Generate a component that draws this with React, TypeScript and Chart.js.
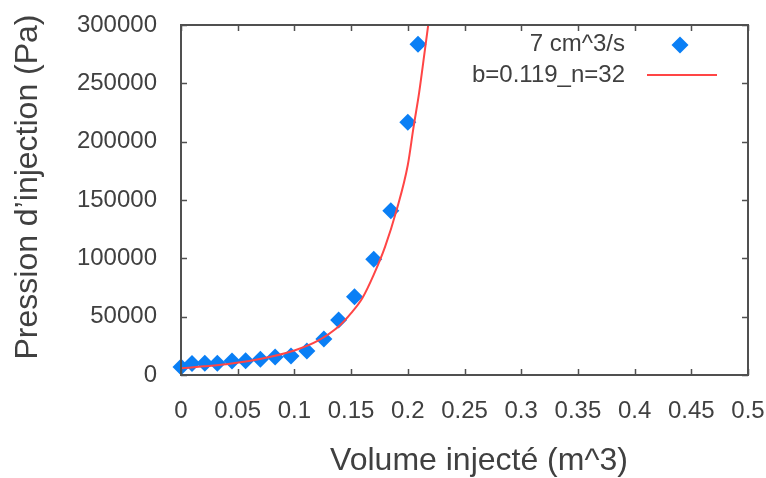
import React, { useEffect, useRef } from "react";
import { Chart, registerables } from "chart.js";

Chart.register(...registerables);

// Measured points (7 cm^3/s)
const pointX = [0, 0.0097, 0.021, 0.032, 0.045, 0.057, 0.07, 0.083, 0.097, 0.111, 0.126, 0.139, 0.153, 0.17, 0.185, 0.2, 0.209];
const pointY = [6860, 9860, 10000, 10000, 12000, 12250, 13460, 15400, 16300, 20600, 30900, 47100, 67100, 99200, 140800, 216600, 283400];

// Fitted curve (b=0.119_n=32)
const fitX = [0, 0.02, 0.04, 0.06, 0.08, 0.1, 0.12, 0.14, 0.15, 0.16, 0.17, 0.18, 0.19, 0.2, 0.205, 0.21, 0.215, 0.218];
const fitY = [5700, 7400, 9300, 12000, 15800, 21000, 29000, 42500, 53000, 66000, 86000, 110000, 141000, 180000, 212000, 242000, 278000, 300000];

const seriesLabels = ["7 cm^3/s", "b=0.119_n=32"];
const xTitle = "Volume injecté (m^3)";
const yTitle = "Pression d’injection (Pa)";

const FONT = "Liberation Sans, Arial, sans-serif";
const TEXT = "#404040";
const FRAME = "#505050";
const BLUE = "#0a7ff5";
const RED = "#ff4545";

const framePlugin = {
  id: "frameTicks",
  afterDraw(chart: any) {
    const { ctx, chartArea: a, scales } = chart;
    const xs = scales.x, ys = scales.y;
    ctx.save();
    ctx.strokeStyle = FRAME;
    ctx.lineWidth = 2;
    ctx.strokeRect(a.left, a.top, a.right - a.left, a.bottom - a.top);
    const tl = 6;
    ctx.lineWidth = 1.5;
    ctx.beginPath();
    xs.ticks.forEach((t: any) => {
      const px = Math.round(xs.getPixelForValue(t.value)) + 0.5;
      ctx.moveTo(px, a.bottom); ctx.lineTo(px, a.bottom - tl);
      ctx.moveTo(px, a.top); ctx.lineTo(px, a.top + tl);
    });
    ys.ticks.forEach((t: any) => {
      const py = Math.round(ys.getPixelForValue(t.value)) + 0.5;
      ctx.moveTo(a.left, py); ctx.lineTo(a.left + tl, py);
      ctx.moveTo(a.right, py); ctx.lineTo(a.right - tl, py);
    });
    ctx.stroke();

    // axis titles
    ctx.fillStyle = TEXT;
    ctx.font = `32px ${FONT}`;
    ctx.textAlign = "center";
    ctx.textBaseline = "middle";
    ctx.fillText(xTitle, 479, 461);
    ctx.save();
    ctx.translate(28, 187);
    ctx.rotate(-Math.PI / 2);
    ctx.fillText(yTitle, 0, 0);
    ctx.restore();

    // legend (gnuplot style)
    const ds = chart.data.datasets;
    ctx.font = `24px ${FONT}`;
    ctx.textAlign = "right";
    ctx.fillText(ds[0].label, 625, 44);
    ctx.fillText(ds[1].label, 625, 75);
    ctx.fillStyle = BLUE;
    ctx.beginPath();
    const r = 8.5, cx = 680, cy = 45;
    ctx.moveTo(cx, cy - r); ctx.lineTo(cx + r, cy); ctx.lineTo(cx, cy + r); ctx.lineTo(cx - r, cy);
    ctx.closePath();
    ctx.fill();
    ctx.strokeStyle = RED;
    ctx.lineWidth = 2;
    ctx.beginPath();
    ctx.moveTo(647, 75); ctx.lineTo(717, 75);
    ctx.stroke();
    ctx.restore();
  },
};

export default function App() {
  const ref = useRef<HTMLCanvasElement>(null);
  useEffect(() => {
    if (!ref.current) return;
    const chart = new Chart(ref.current, {
      type: "scatter",
      data: {
        datasets: [
          {
            label: seriesLabels[0],
            data: pointX.map((x, i) => ({ x, y: pointY[i] })),
            pointStyle: "rectRot",
            pointRadius: 8.5,
            pointBackgroundColor: BLUE,
            pointBorderWidth: 0,
            borderColor: BLUE,
            backgroundColor: BLUE,
            clip: false,
            order: 1,
          } as any,
          {
            label: seriesLabels[1],
            type: "line",
            data: fitX.map((x, i) => ({ x, y: fitY[i] })),
            showLine: true,
            borderColor: RED,
            borderWidth: 2,
            pointRadius: 0,
            cubicInterpolationMode: "monotone",
            fill: false,
            order: 0,
          } as any,
        ],
      },
      options: {
        responsive: false,
        animation: false,
        devicePixelRatio: 1,
        layout: { padding: { left: 0, top: 25, right: 18, bottom: 0 } },
        plugins: { legend: { display: false }, tooltip: { enabled: false } },
        scales: {
          x: {
            type: "linear",
            min: 0,
            max: 0.5,
            grid: { display: false, drawTicks: false },
            border: { display: false },
            ticks: {
              stepSize: 0.05,
              padding: 22,
              color: TEXT,
              font: { family: FONT, size: 24 },
              maxRotation: 0,
              autoSkip: false,
              callback: (v: any) => String(Number(Number(v).toFixed(2))),
            },
            afterFit: (s: any) => { s.height = 103; s.paddingLeft = 0; s.paddingRight = 0; },
          },
          y: {
            type: "linear",
            min: 0,
            max: 300000,
            grid: { display: false, drawTicks: false },
            border: { display: false },
            ticks: {
              stepSize: 50000,
              padding: 24,
              color: TEXT,
              font: { family: FONT, size: 24 },
              callback: (v: any) => String(v),
            },
            afterFit: (s: any) => { s.width = 181; s.paddingTop = 0; s.paddingBottom = 0; },
          },
        },
      },
      plugins: [framePlugin],
    });
    return () => chart.destroy();
  }, []);
  return (
    <canvas
      ref={ref}
      width={766}
      height={478}
      style={{ position: "fixed", left: 0, top: 0, width: 766, height: 478 }}
    />
  );
}
